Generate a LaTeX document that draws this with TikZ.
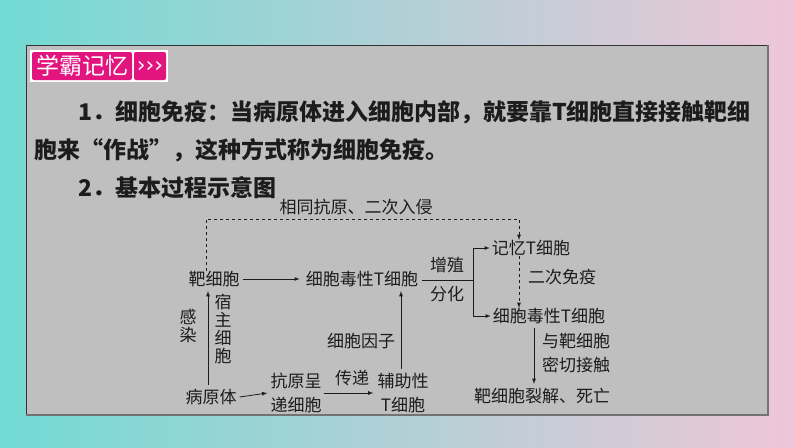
\documentclass[tikz,border=0pt]{standalone}
\usepackage{fontspec}
\setmainfont{Noto Sans CJK SC}
\newfontfamily\symfont{DejaVu Sans}
\definecolor{bgteal}{HTML}{72DAD4}
\definecolor{bglav}{HTML}{CCD6E4}
\definecolor{bgpink}{HTML}{EEC6D8}
\definecolor{panelgray}{HTML}{BFBFBF}
\definecolor{badgepink}{HTML}{E2157E}
\definecolor{ink}{HTML}{1C1C1C}
\begin{document}
\begin{tikzpicture}[x=1pt,y=1pt]
  \tikzstyle{every node}+=[inner sep=0pt]
  \tikzstyle{lbl}=[text=ink, font=\fontsize{17}{24}\selectfont, align=center]
  \tikzstyle{vlbl}=[text=ink, font=\fontsize{17}{18}\selectfont, align=center, text width=17pt]
  \tikzstyle{arr}=[ink, line width=0.8pt, -latex]
  \tikzstyle{dasharr}=[ink, line width=0.8pt, dashed, -latex]
  \useasboundingbox (0,0) rectangle (794,-447);
  % background and panel
  \shade [left color=bgteal, middle color=bglav, right color=bgpink] (0,0) rectangle (794,-447);
  \fill [panelgray] (26,-45) rectangle (768,-415);
  \draw [black!80, line width=1pt] (26,-415) -- (26,-45) -- (768,-45);
  \draw [black!55, line width=2pt] (768,-45) -- (768,-415) -- (26,-415);
  % badge
  \fill [white] (30,-50) rectangle (168,-82);
  \fill [badgepink, rounded corners=2pt] (32,-52) rectangle (132,-80);
  \fill [badgepink, rounded corners=2pt] (134,-52) rectangle (166,-80);
  \node [text=white, font=\fontsize{23}{23}\selectfont] (badge) at (82,-66) {学霸记忆};
  \node [text=white, font=\symfont\fontsize{22}{22}\selectfont] (more) at (150,-67) {›››};
  % text
  \node [anchor=west, text=ink, font=\bfseries\fontsize{23}{23}\selectfont] (line1) at (78,-112) {1．细胞免疫：当病原体进入细胞内部，就要靠T细胞直接接触靶细};
  \node [anchor=west, text=ink, font=\bfseries\fontsize{23}{23}\selectfont] (line2) at (34,-150) {胞来“作战”，这种方式称为细胞免疫。};
  \node [anchor=west, text=ink, font=\bfseries\fontsize{23}{23}\selectfont] (line3) at (78,-188) {2．基本过程示意图};
  % diagram
  \node [lbl] (target) at (214,-279) {靶细胞};
  \node [lbl] (ctl) at (362,-279) {细胞毒性T细胞};
  \node [lbl] (mem) at (531,-248) {记忆T细胞};
  \node [lbl] (ctl2) at (549,-316) {细胞毒性T细胞};
  \node [lbl] (lysis) at (542,-396) {靶细胞裂解、死亡};
  \node [lbl] (pathogen) at (211,-397) {病原体};
  \node [lbl] (apc) at (296,-393) {抗原呈\\递细胞};
  \node [lbl] (th) at (403,-393) {辅助性\\T细胞};
  \node [lbl] (again) at (356,-207) {相同抗原、二次入侵};
  \node [lbl] (prolif) at (447,-265) {增殖};
  \node [lbl] (diff) at (447,-294) {分化};
  \node [lbl] (second) at (562,-277) {二次免疫};
  \node [lbl] (contact) at (576,-353) {与靶细胞\\密切接触};
  \node [lbl] (cytok) at (361,-341) {细胞因子};
  \node [lbl] (pass) at (352,-378) {传递};
  \node [vlbl] (infect) at (188,-326) {感\\染};
  \node [vlbl] (host) at (223,-329) {宿\\主\\细\\胞};
  \coordinate (split) at (473,-280);
  \coordinate (top) at (356,-219);
  \draw [arr] (target.east) ++(3,0) -- ([xshift=-6pt]ctl.west);
  \draw [ink, line width=0.8pt] ([xshift=4pt]ctl.east |- split) -- (split);
  \draw [arr] (split) |- ([xshift=-2pt]mem.west);
  \draw [arr] (split) |- ([xshift=-2pt]ctl2.west);
  \draw [dasharr] ([xshift=-8pt]target.north) |- (top) -| ([xshift=-12pt]mem.north);
  \draw [dasharr] ([xshift=-12pt]mem.south) -- ([xshift=-30pt]ctl2.north);
  \draw [arr] ([xshift=-15pt,yshift=-4pt]ctl2.south) -- ([xshift=-8pt,yshift=4pt]lysis.north);
  \draw [arr] ([xshift=-3pt,yshift=4pt]pathogen.north) -- ([xshift=-6pt,yshift=-4pt]target.south);
  \draw [arr] ([xshift=3pt]pathogen.east) -- ([xshift=-3pt]apc.west);
  \draw [arr] ([xshift=2pt]apc.east) -- ([xshift=-4pt]th.west);
  \draw [arr] ([xshift=-2pt,yshift=4pt]th.north) -- ([xshift=39pt,yshift=-4pt]ctl.south);
\end{tikzpicture}
\end{document}
